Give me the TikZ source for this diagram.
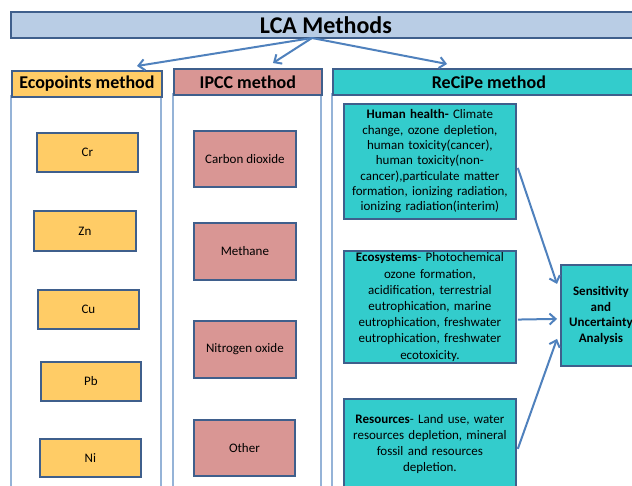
\documentclass[tikz,border=0pt]{standalone}
\usepackage{fontspec}
\setmainfont{Carlito}
\usetikzlibrary{arrows.meta}
\definecolor{titlefill}{HTML}{B9CDE5}
\definecolor{bordc}{HTML}{3F5F8C}
\definecolor{colline}{HTML}{95B3D7}
\definecolor{yfill}{HTML}{FFCC66}
\definecolor{pfill}{HTML}{D99694}
\definecolor{tfill}{HTML}{33CCCC}
\definecolor{arrc}{HTML}{4F81BD}
\tikzset{
  bx/.style={draw=bordc, line width=1.8pt, anchor=north west, inner sep=2pt, text=black},
  hdr/.style={bx, font=\fontsize{18}{20}\selectfont\bfseries},
  ybox/.style={bx, fill=yfill, font=\fontsize{13}{15}\selectfont},
  pbox/.style={bx, fill=pfill, font=\fontsize{13}{15}\selectfont},
  tbox/.style={bx, fill=tfill, align=center, text width=166pt},
  col/.style={draw=colline, line width=1.8pt},
  arr/.style={draw=arrc, line width=2pt, -{Straight Barb[length=6pt,width=11pt]}}
}
\begin{document}
\begin{tikzpicture}[x=1pt,y=-1pt]
\useasboundingbox (0,0) rectangle (632,485);
\clip (0,0) rectangle (632,485);
\fill[white] (0,0) rectangle (632,485);
% columns
\draw[col] (11,96) rectangle (161,500);
\draw[col] (173,94) rectangle (321,500);
\draw[col] (332,94) rectangle (644,500);
% title
\node[bx, fill=titlefill, minimum width=630pt, minimum height=26pt, font=\fontsize{24}{26}\selectfont\bfseries] (title) at (10,11) {LCA Methods};
% headers
\node[hdr, fill=yfill, minimum width=150pt, minimum height=26pt] (eco) at (11,70) {Ecopoints method};
\node[hdr, fill=pfill, minimum width=148pt, minimum height=26pt] (ipcc) at (173,68) {IPCC method};
\node[hdr, fill=tfill, minimum width=312pt, minimum height=26pt] (recipe) at (332,68) {ReCiPe method};
% arrows from title
\coordinate (src) at (312,38);
\coordinate (t1) at (137,66);
\coordinate (t2) at (273,63);
\coordinate (t3) at (447,64);
\draw[arr] (src) -- (t1);
\draw[arr] (src) -- (t2);
\draw[arr] (src) -- (t3);
% yellow boxes
\node[ybox, minimum width=101pt, minimum height=39pt] (cr) at (36,132) {Cr};
\node[ybox, minimum width=102pt, minimum height=40pt] (zn) at (33,210) {Zn};
\node[ybox, minimum width=101pt, minimum height=39pt] (cu) at (37,289) {Cu};
\node[ybox, minimum width=100pt, minimum height=39pt] (pb) at (40,361) {Pb};
\node[ybox, minimum width=101pt, minimum height=38pt] (ni) at (39,438) {Ni};
% pink boxes
\node[pbox, minimum width=102pt, minimum height=56pt] (co2) at (193,130) {Carbon dioxide};
\node[pbox, minimum width=102pt, minimum height=57pt] (ch4) at (193,222) {Methane};
\node[pbox, minimum width=102pt, minimum height=57pt] (nox) at (193,320) {Nitrogen oxide};
\node[pbox, minimum width=101pt, minimum height=56pt] (oth) at (193,419) {Other};
% teal boxes
\node[tbox, minimum width=172pt, minimum height=115pt, font=\fontsize{13}{15.3}\selectfont] (hh) at (343,103)
 {\textbf{Human health-} Climate\\ change, ozone depletion,\\ human toxicity(cancer),\\ human toxicity(non-\\ cancer),particulate matter\\ formation, ionizing radiation,\\ ionizing radiation(interim)};
\node[tbox, minimum width=172pt, minimum height=111pt, font=\fontsize{13}{16.2}\selectfont] (ecs) at (343,250)
 {\textbf{Ecosystems}- Photochemical\\ ozone formation,\\ acidification, terrestrial\\ eutrophication, marine\\ eutrophication, freshwater\\ eutrophication, freshwater\\ ecotoxicity.};
\node[tbox, minimum width=172pt, minimum height=90pt, font=\fontsize{13}{16}\selectfont] (res) at (343,398)
 {\textbf{Resources}- Land use, water\\ resources depletion, mineral\\ fossil and resources\\ depletion.};
\node[bx, fill=tfill, minimum width=80pt, minimum height=101pt, text width=76pt, align=center, font=\fontsize{13}{15.5}\selectfont\bfseries] (sens) at (560,264)
 {Sensitivity\\ and\\ Uncertainty\\ Analysis};
% arrows to sensitivity
\draw[arr] ([yshift=-6.5pt,xshift=1pt]hh.east) -- ([yshift=31.5pt,xshift=-3pt]sens.west);
\draw[arr] ([yshift=-12.5pt,xshift=1pt]ecs.east) -- ([yshift=-3.5pt,xshift=-3pt]sens.west);
\draw[arr] ([yshift=-5pt,xshift=1pt]res.east) -- ([yshift=-23.5pt,xshift=-3pt]sens.west);
\end{tikzpicture}
\end{document}
